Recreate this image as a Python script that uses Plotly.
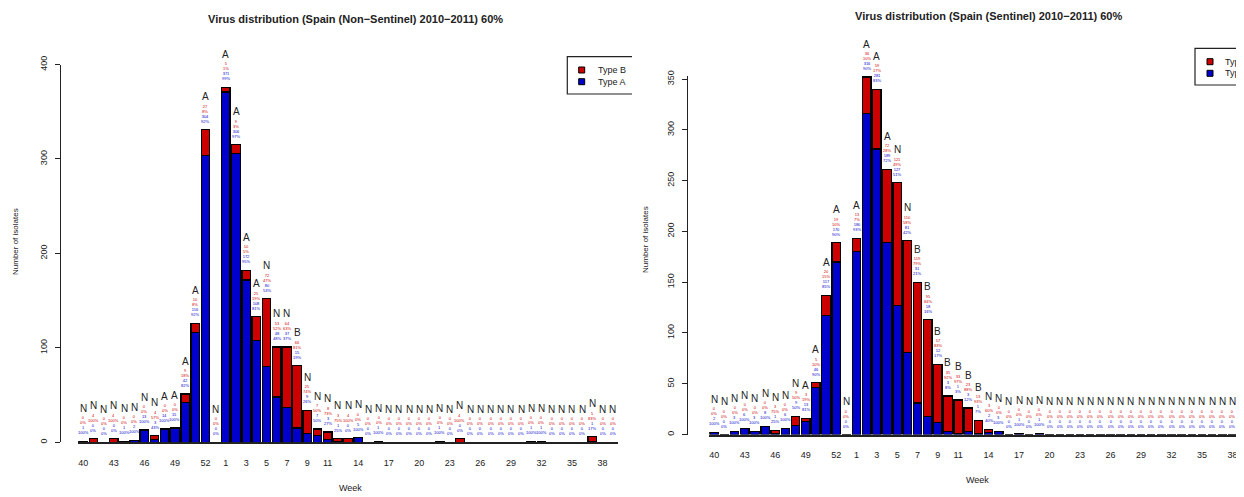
import plotly.graph_objects as go

# The page body has an 8px margin, so the figure is drawn 8px in from the
# window's top-left; reference pixel coords are converted accordingly.
OFF = 8
W, H = 1244 - OFF, 497 - OFF

# ---------------- data ----------------
weeks = ["40", "41", "42", "43", "44", "45", "46", "47", "48", "49", "50", "51", "52", "53",
         "1", "2", "3", "4", "5", "6", "7", "8", "9", "10", "11", "12", "13", "14", "15",
         "16", "17", "18", "19", "20", "21", "22", "23", "24", "25", "26", "27", "28", "29",
         "30", "31", "32", "33", "34", "35", "36", "37", "38", "39"]
tick_weeks = ["40", "43", "46", "49", "52", "1", "3", "5", "7", "9", "11", "14", "17",
              "20", "23", "26", "29", "32", "35", "38"]

# Non-sentinel
nonsent_a = [1, 0, 0, 0, 1, 2, 13, 3, 14, 15, 42, 116, 304, 0,
             371, 306, 172, 108, 80, 48, 37, 15, 9, 7, 3, 1, 0, 5, 0,
             1, 0, 0, 0, 0, 0, 1, 0, 0, 0, 0, 0, 0, 0,
             0, 1, 1, 0, 0, 0, 0, 1, 0, 0]
nonsent_b = [0, 4, 0, 4, 0, 0, 0, 4, 0, 0, 9, 10, 27, 0,
             5, 9, 10, 25, 72, 53, 64, 66, 25, 7, 8, 3, 4, 0, 0,
             0, 0, 0, 0, 0, 0, 0, 0, 4, 0, 0, 0, 0, 0,
             0, 0, 0, 0, 0, 0, 0, 5, 0, 0]
nonsent_letter = ["N", "N", "N", "N", "N", "N", "N", "N", "A", "A", "A", "A", "A", "N",
                  "A", "A", "A", "A", "N", "N", "N", "B", "N", "N", "N", "N", "N", "N", "N",
                  "N", "N", "N", "N", "N", "N", "N", "N", "N", "N", "N", "N", "N", "N",
                  "N", "N", "N", "N", "N", "N", "N", "N", "N", "N"]

# Sentinel
sent_a = [2, 0, 3, 6, 3, 8, 1, 6, 9, 13, 46, 117, 170, 0,
          180, 316, 281, 189, 127, 81, 31, 18, 12, 3, 1, 3, 1, 2, 3,
          0, 1, 0, 1, 0, 0, 0, 0, 0, 0, 0, 0, 0, 0,
          0, 0, 0, 0, 0, 0, 0, 0, 0, 0]
sent_b = [0, 0, 0, 0, 0, 0, 3, 0, 9, 3, 5, 20, 19, 0,
          13, 36, 59, 72, 121, 110, 119, 95, 57, 35, 33, 23, 13, 3, 0,
          0, 0, 0, 0, 0, 0, 0, 0, 0, 0, 0, 0, 0, 0,
          0, 0, 0, 0, 0, 0, 0, 0, 0, 0]
sent_letter = ["N", "N", "N", "N", "N", "N", "N", "N", "N", "A", "A", "A", "A", "N",
               "A", "A", "A", "A", "N", "N", "B", "B", "B", "B", "B", "B", "B", "N", "N",
               "N", "N", "N", "N", "N", "N", "N", "N", "N", "N", "N", "N", "N", "N",
               "N", "N", "N", "N", "N", "N", "N", "N", "N", "N"]

titles = ["Virus distribution (Spain (Non\u2212Sentinel) 2010\u22122011) 60%",
          "Virus distribution (Spain (Sentinel) 2010\u22122011) 60%"]

BLUE = "#0000CD"
RED = "#CD0000"
FONT = "Liberation Sans, Arial, Helvetica, sans-serif"
TXT = "#222222"


def fx(x):
    return min(1.0, max(0.0, (x - OFF) / W))


def fy(y):
    return min(1.0, max(0.0, 1 - (y - OFF) / H))


def pct(v, t):
    return f"{round(100 * v / t)}%" if t else "0%"


fig = go.Figure()
annotations = []
shapes = []

panels = [
    dict(a=nonsent_a, b=nonsent_b, letters=nonsent_letter, xa="x", ya="y"),
    dict(a=sent_a, b=sent_b, letters=sent_letter, xa="x2", ya="y2"),
]

for p in panels:
    fig.add_trace(go.Bar(x=weeks, y=p["a"], name="Type A", xaxis=p["xa"], yaxis=p["ya"],
                         marker=dict(color=BLUE, line=dict(color="black", width=1.3)),
                         cliponaxis=False, showlegend=False, hoverinfo="skip"))
    fig.add_trace(go.Bar(x=weeks, y=p["b"], name="Type B", xaxis=p["xa"], yaxis=p["ya"],
                         marker=dict(color=RED, line=dict(color="black", width=1.3)),
                         cliponaxis=False, showlegend=False, hoverinfo="skip"))
    for i, (a, b, let) in enumerate(zip(p["a"], p["b"], p["letters"])):
        t = a + b
        annotations.append(dict(x=i, y=t, xref=p["xa"], yref=p["ya"], text=let,
                                showarrow=False, yanchor="middle", yshift=33,
                                font=dict(size=10, color=TXT, family=FONT)))
        annotations.append(dict(x=i, y=t, xref=p["xa"], yref=p["ya"],
                                text=f"{b}<br>{pct(b, t)}",
                                showarrow=False, yanchor="middle", yshift=21,
                                font=dict(size=4, color=RED, family=FONT)))
        annotations.append(dict(x=i, y=t, xref=p["xa"], yref=p["ya"],
                                text=f"{a}<br>{pct(a, t)}",
                                showarrow=False, yanchor="middle", yshift=11,
                                font=dict(size=4, color=BLUE, family=FONT)))

# titles and axis titles
annotations += [
    dict(x=fx(355), y=fy(19), xref="paper", yref="paper", text=f"<b>{titles[0]}</b>",
         xanchor="center", yanchor="middle",
         showarrow=False, font=dict(size=11, color=TXT, family=FONT)),
    dict(x=fx(988), y=fy(16), xref="paper", yref="paper", text=f"<b>{titles[1]}</b>",
         xanchor="center", yanchor="middle",
         showarrow=False, font=dict(size=11, color=TXT, family=FONT)),
    dict(x=fx(15), y=fy(242), xref="paper", yref="paper", text="Number of isolates",
         xanchor="center", yanchor="middle",
         textangle=-90, showarrow=False, font=dict(size=8, color=TXT, family=FONT)),
    dict(x=fx(645), y=fy(240), xref="paper", yref="paper", text="Number of isolates",
         xanchor="center", yanchor="middle",
         textangle=-90, showarrow=False, font=dict(size=8, color=TXT, family=FONT)),
    dict(x=fx(350), y=fy(488), xref="paper", yref="paper", text="Week",
         xanchor="center", yanchor="middle",
         showarrow=False, font=dict(size=9, color=TXT, family=FONT)),
    dict(x=fx(977), y=fy(480), xref="paper", yref="paper", text="Week",
         xanchor="center", yanchor="middle",
         showarrow=False, font=dict(size=9, color=TXT, family=FONT)),
]

# manual legends (boxes clipped at the image edges like the reference)
legends = [
    dict(left=567.3, right=632, top=56.7, bottom=94, mx=581.7, tx=596, y1=70, y2=81.7),
    dict(left=1195, right=1244, top=48.3, bottom=85, mx=1210, tx=1222.7, y1=61.7, y2=73.3),
]
for lg in legends:
    path = (f"M {fx(lg['right'])},{fy(lg['top'])} L {fx(lg['left'])},{fy(lg['top'])} "
            f"L {fx(lg['left'])},{fy(lg['bottom'])} L {fx(lg['right'])},{fy(lg['bottom'])}")
    shapes.append(dict(type="path", path=path, xref="paper", yref="paper",
                       line=dict(color="#222222", width=1.2)))
    for yy, col, lab in [(lg["y1"], RED, "Type B"), (lg["y2"], BLUE, "Type A")]:
        shapes.append(dict(type="rect", xref="paper", yref="paper",
                           x0=fx(lg["mx"] - 3), x1=fx(lg["mx"] + 3),
                           y0=fy(yy + 3), y1=fy(yy - 3),
                           fillcolor=col, line=dict(color="black", width=1)))
        annotations.append(dict(x=fx(lg["tx"]), y=fy(yy), xref="paper", yref="paper",
                                text=lab, xanchor="left", yanchor="middle", showarrow=False,
                                font=dict(size=9, color=TXT, family=FONT)))

xcommon = dict(type="category", categoryorder="array", categoryarray=weeks,
               tickmode="array", tickvals=tick_weeks, ticktext=tick_weeks,
               showline=True, linecolor="#222222", linewidth=1.6,
               ticks="outside", ticklen=11, tickcolor="rgba(0,0,0,0)",
               tickfont=dict(size=9, color=TXT, family=FONT),
               showgrid=False, zeroline=False, fixedrange=True, automargin=False)
ycommon = dict(showline=True, linecolor="#222222", linewidth=1, ticks="outside",
               ticklen=5, tickcolor="#222222", tickangle=-90,
               tickfont=dict(size=9, color=TXT, family=FONT),
               showgrid=False, zeroline=False, anchor="free", ticklabelstandoff=4,
               automargin=False, fixedrange=True)

fig.update_layout(
    template="none",
    width=W, height=H, autosize=False,
    margin=dict(l=0, r=0, t=0, b=0, pad=0),
    paper_bgcolor="white", plot_bgcolor="white",
    barmode="stack", bargap=0.167,
    showlegend=False,
    xaxis=dict(xcommon, domain=[fx(78.2), fx(617.8)], range=[-0.5, 52.5], anchor="y"),
    yaxis=dict(ycommon, domain=[fy(442.3), fy(64.5)], range=[0, 400], position=fx(60),
               tickvals=[0, 100, 200, 300, 400]),
    xaxis2=dict(xcommon, domain=[fx(709.2), 1.0], range=[-0.5, (1244 - 714.3) / 10.16],
                anchor="y2"),
    yaxis2=dict(ycommon, domain=[fy(434.5), fy(76.0)], range=[0, 353], position=fx(686.7),
                tickvals=[0, 50, 100, 150, 200, 250, 300, 350]),
    annotations=annotations,
    shapes=shapes,
)

fig.write_html("out.html")
